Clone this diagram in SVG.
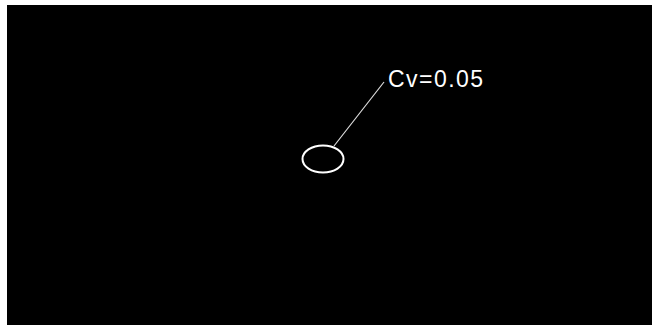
<svg xmlns="http://www.w3.org/2000/svg" width="652" height="330" viewBox="0 0 652 330">
<style>
.bg{fill:#000}
.w{fill:none;stroke:#fff;stroke-width:2}
.lead{fill:none;stroke:#ddd;stroke-width:1.2}
.lbl{font-family:"Liberation Sans",Arial,sans-serif;font-size:23px;fill:#fff}
</style>
<rect width="652" height="330" fill="#fff"/>
<rect class="bg" x="7" y="5" width="645" height="320"/>
<g id="ellipse">
<ellipse class="w" cx="323" cy="159" rx="20.5" ry="13.5"/>
</g>
<g id="connectors">
<line class="lead" x1="334" y1="146" x2="384" y2="82"/>
</g>
<g id="label">
<text class="lbl" x="388" y="87" textLength="95" lengthAdjust="spacing">Cv=0.05</text>
</g>
</svg>
